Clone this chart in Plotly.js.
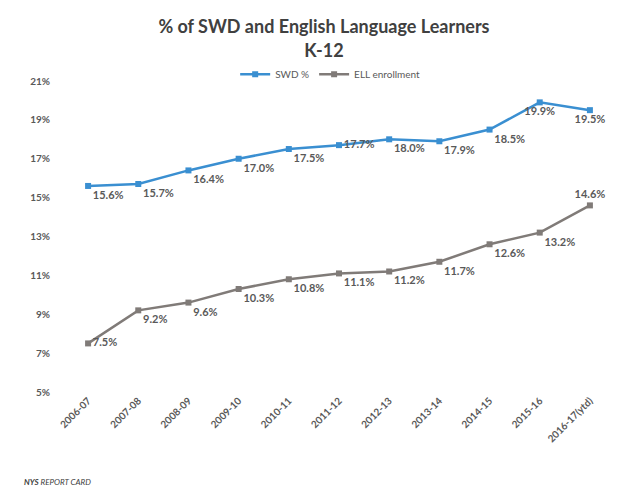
<!DOCTYPE html>
<html>
<head>
<meta charset="utf-8">
<script src="https://cdn.plot.ly/plotly-3.0.1.min.js"></script>
<style>html,body{margin:0;padding:0;background:#fff;}#chart{width:623px;height:491px;}</style>
</head>
<body>
<div id="chart"></div>
<script>
const years = ["2006-07","2007-08","2008-09","2009-10","2010-11","2011-12","2012-13","2013-14","2014-15","2015-16","2016-17(ytd)"];
const swd = [15.6, 15.7, 16.4, 17.0, 17.5, 17.7, 18.0, 17.9, 18.5, 19.9, 19.5];
const ell = [7.5, 9.2, 9.6, 10.3, 10.8, 11.1, 11.2, 11.7, 12.6, 13.2, 14.6];
const yTicks = [5, 7, 9, 11, 13, 15, 17, 19, 21];

const labelFont = {family: "Lato, 'Open Sans', sans-serif", size: 11, color: "#595959", weight: "bold"};
const traces = [
  {
    x: years, y: swd, name: "SWD %", type: "scatter", mode: "lines+markers+text",
    text: swd.map(v => v.toFixed(1) + "%"),
    textposition: ["bottom right","bottom right","bottom right","bottom right","bottom right","middle right","bottom right","bottom right","bottom right","bottom center","bottom center"],
    textfont: labelFont, cliponaxis: false,
    line: {color: "#3A8FD1", width: 2.5},
    marker: {symbol: "square", size: 6, color: "#3A8FD1"}
  },
  {
    x: years, y: ell, name: "ELL enrollment", type: "scatter", mode: "lines+markers+text",
    text: ell.map(v => v.toFixed(1) + "%"),
    textposition: ["middle right","bottom right","bottom right","bottom right","bottom right","bottom right","bottom right","bottom right","bottom right","bottom right","top center"],
    textfont: labelFont, cliponaxis: false,
    line: {color: "#807B78", width: 2.5},
    marker: {symbol: "square", size: 6, color: "#807B78"}
  }
];

const layout = {
  width: 623, height: 491,
  margin: {l: 63, r: 8, t: 81, b: 99},
  paper_bgcolor: "#fff", plot_bgcolor: "#fff",
  title: {
    text: "% of SWD and English Language Learners<br>K-12",
    font: {family: "Lato, 'Open Sans', sans-serif", size: 18, color: "#404040", weight: "bold"},
    x: 0.52, xanchor: "center", y: 0.932, yanchor: "bottom"
  },
  showlegend: true,
  legend: {
    orientation: "h", x: 0.484, xanchor: "center", y: 1.022, yanchor: "middle",
    font: {family: "Lato, 'Open Sans', sans-serif", size: 10, color: "#595959"},
    traceorder: "normal"
  },
  xaxis: {
    type: "category", range: [-0.5, 10.5],
    showgrid: false, zeroline: false, showline: false, ticks: "",
    tickangle: -45,
    tickfont: {family: "Lato, 'Open Sans', sans-serif", size: 10, color: "#595959", weight: "bold"}
  },
  yaxis: {
    range: [5, 21], tickvals: yTicks, ticktext: yTicks.map(v => v + "%"),
    showgrid: false, zeroline: false, showline: false, ticks: "",
    tickfont: {family: "Lato, 'Open Sans', sans-serif", size: 10, color: "#595959", weight: "bold"},
    ticklabelstandoff: 12
  },
  annotations: [
    {
      xref: "paper", yref: "paper", x: -0.075, y: -0.29, xanchor: "left", yanchor: "middle",
      showarrow: false,
      text: "<b><i>NYS</i></b> <i>REPORT CARD</i>",
      font: {family: "Lato, 'Open Sans', sans-serif", size: 8, color: "#404040"}
    }
  ]
};

Plotly.newPlot("chart", traces, layout, {displayModeBar: false, staticPlot: true});
</script>
</body>
</html>
